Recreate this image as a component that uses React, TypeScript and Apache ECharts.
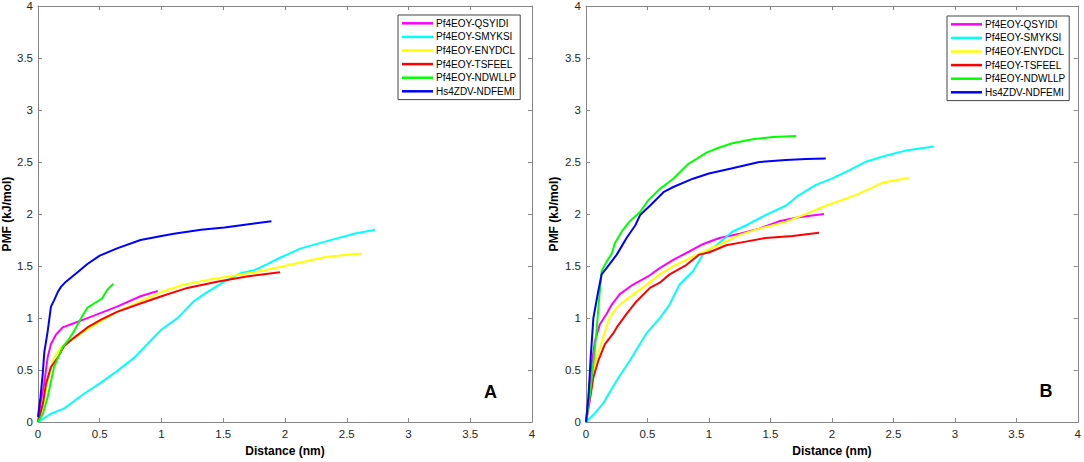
import React, { useEffect, useRef } from "react";
import * as echarts from "echarts";

type P = [number, number][];

const SERIES_NAMES = [
  "Pf4EOY-QSYIDI",
  "Pf4EOY-SMYKSI",
  "Pf4EOY-ENYDCL",
  "Pf4EOY-TSFEEL",
  "Pf4EOY-NDWLLP",
  "Hs4ZDV-NDFEMI",
];
const SERIES_COLORS = ["#ff00ff", "#00ffff", "#ffff00", "#ff0000", "#00ff00", "#0000ff"];
const AXIS_TICKS = [0, 0.5, 1, 1.5, 2, 2.5, 3, 3.5, 4];

// Panel A
const A_QSYIDI: P = [[0,0],[0.02,0.18],[0.05,0.37],[0.078,0.62],[0.105,0.75],[0.145,0.84],[0.2,0.91],[0.29,0.95],[0.4,1.0],[0.51,1.05],[0.64,1.11],[0.83,1.21],[0.97,1.26]];
const A_SMYKSI: P = [[0,0],[0.105,0.08],[0.21,0.13],[0.37,0.27],[0.51,0.38],[0.64,0.49],[0.78,0.62],[0.91,0.78],[1.0,0.89],[1.13,1.0],[1.26,1.16],[1.37,1.25],[1.51,1.35],[1.64,1.43],[1.75,1.46],[1.86,1.52],[1.96,1.58],[2.13,1.67],[2.34,1.74],[2.56,1.81],[2.73,1.85]];
const A_ENYDCL: P = [[0,0],[0.04,0.15],[0.078,0.4],[0.13,0.62],[0.186,0.72],[0.24,0.76],[0.37,0.87],[0.51,0.97],[0.64,1.06],[0.83,1.16],[1.0,1.25],[1.18,1.32],[1.37,1.365],[1.59,1.41],[1.8,1.45],[2.07,1.52],[2.34,1.59],[2.62,1.62]];
const A_TSFEEL: P = [[0,0],[0.04,0.18],[0.065,0.37],[0.105,0.53],[0.16,0.62],[0.21,0.73],[0.29,0.81],[0.4,0.91],[0.51,0.985],[0.64,1.06],[0.83,1.14],[1.0,1.21],[1.21,1.29],[1.45,1.35],[1.69,1.4],[1.96,1.44]];
const A_NDWLLP: P = [[0,0],[0.04,0.08],[0.078,0.24],[0.13,0.53],[0.2,0.72],[0.24,0.78],[0.29,0.87],[0.35,1.0],[0.4,1.1],[0.455,1.14],[0.52,1.19],[0.56,1.27],[0.61,1.33]];
const A_NDFEMI: P = [[0,0.05],[0.02,0.24],[0.038,0.46],[0.051,0.67],[0.078,0.87],[0.105,1.11],[0.13,1.17],[0.16,1.25],[0.186,1.3],[0.226,1.35],[0.32,1.44],[0.4,1.52],[0.5,1.6],[0.64,1.67],[0.83,1.75],[1.0,1.79],[1.1,1.81],[1.32,1.85],[1.51,1.87],[1.69,1.9],[1.89,1.93]];

// Panel B
const B_QSYIDI: P = [[0,0],[0.02,0.24],[0.046,0.56],[0.073,0.78],[0.113,0.94],[0.167,1.04],[0.21,1.13],[0.275,1.23],[0.38,1.32],[0.505,1.4],[0.6,1.48],[0.71,1.56],[0.84,1.64],[0.95,1.71],[1.085,1.77],[1.25,1.81],[1.41,1.86],[1.57,1.93],[1.73,1.97],[1.935,2.0]];
const B_SMYKSI: P = [[0,0],[0.06,0.07],[0.14,0.18],[0.25,0.4],[0.356,0.59],[0.49,0.85],[0.6,1.0],[0.68,1.13],[0.76,1.32],[0.87,1.45],[0.95,1.61],[1.06,1.7],[1.19,1.83],[1.3,1.89],[1.46,1.99],[1.625,2.08],[1.73,2.18],[1.87,2.28],[2.0,2.34],[2.14,2.42],[2.27,2.5],[2.435,2.56],[2.6,2.61],[2.83,2.65]];
const B_ENYDCL: P = [[0,0],[0.03,0.24],[0.073,0.56],[0.14,0.815],[0.19,1.0],[0.25,1.1],[0.33,1.18],[0.46,1.29],[0.6,1.42],[0.71,1.5],[0.87,1.59],[1.0,1.66],[1.14,1.735],[1.25,1.8],[1.41,1.86],[1.625,1.925],[1.79,2.0],[1.95,2.08],[2.19,2.18],[2.41,2.3],[2.54,2.33],[2.63,2.35]];
const B_TSFEEL: P = [[0,0],[0.027,0.18],[0.06,0.43],[0.1,0.59],[0.154,0.75],[0.22,0.85],[0.25,0.91],[0.33,1.04],[0.41,1.16],[0.52,1.29],[0.6,1.34],[0.68,1.42],[0.815,1.51],[0.92,1.61],[1.0,1.63],[1.14,1.7],[1.3,1.735],[1.46,1.77],[1.68,1.79],[1.895,1.82]];
const B_NDWLLP: P = [[0,0],[0.03,0.24],[0.06,0.56],[0.086,0.88],[0.108,1.2],[0.127,1.45],[0.167,1.54],[0.21,1.62],[0.235,1.72],[0.29,1.83],[0.356,1.93],[0.44,2.02],[0.505,2.13],[0.6,2.24],[0.71,2.34],[0.83,2.48],[0.9,2.53],[0.98,2.59],[1.085,2.64],[1.19,2.68],[1.355,2.72],[1.52,2.74],[1.71,2.75]];
const B_NDFEMI: P = [[0,0],[0.02,0.24],[0.038,0.62],[0.06,1.0],[0.08,1.13],[0.1,1.26],[0.127,1.42],[0.167,1.48],[0.25,1.61],[0.33,1.77],[0.4,1.89],[0.44,1.99],[0.52,2.08],[0.63,2.21],[0.71,2.26],[0.87,2.34],[1.0,2.39],[1.19,2.44],[1.41,2.5],[1.625,2.52],[1.79,2.53],[1.95,2.535]];

const PANEL_A = [A_QSYIDI, A_SMYKSI, A_ENYDCL, A_TSFEEL, A_NDWLLP, A_NDFEMI];
const PANEL_B = [B_QSYIDI, B_SMYKSI, B_ENYDCL, B_TSFEEL, B_NDWLLP, B_NDFEMI];
const PANEL_LABELS = ["A", "B"];

const FONT = "'Liberation Sans', Arial, sans-serif";
const AXIS_COLOR = "#868686";
const LABEL_COLOR = "#262626";

function makeAxis(kind: "x" | "y", gridIndex: number, main: boolean, nameGap: number) {
  const tickMin = AXIS_TICKS[0];
  const tickMax = AXIS_TICKS[AXIS_TICKS.length - 1];
  const interval = AXIS_TICKS[1] - AXIS_TICKS[0];
  return {
    type: "value",
    gridIndex,
    position: kind === "x" ? (main ? "bottom" : "top") : main ? "left" : "right",
    min: tickMin,
    max: tickMax,
    interval,
    name: main ? (kind === "x" ? "Distance (nm)" : "PMF (kJ/mol)") : "",
    nameLocation: "middle",
    nameGap,
    nameTextStyle: { fontFamily: FONT, fontWeight: "bold", fontSize: 12, color: "#000" },
    axisLine: { show: true, onZero: false, lineStyle: { color: AXIS_COLOR, width: 1 } },
    axisTick: { show: true, inside: true, length: 4, lineStyle: { color: AXIS_COLOR } },
    axisLabel: {
      show: main,
      fontFamily: FONT,
      fontSize: 11.5,
      color: LABEL_COLOR,
      margin: kind === "x" ? 6 : 5,
      formatter: (v: number) => String(v),
    },
    splitLine: { show: false },
  };
}

export default function App() {
  const ref = useRef<HTMLDivElement>(null);
  useEffect(() => {
    if (!ref.current) return;
    const chart = echarts.init(ref.current, undefined, { renderer: "svg" });
    const grids = [
      { left: 37, top: 4.3, width: 495, height: 421 },
      { left: 586, top: 5.3, width: 494, height: 420.4 },
    ];
    const xAxis = [
      makeAxis("x", 0, true, 20),
      makeAxis("x", 0, false, 0),
      makeAxis("x", 1, true, 20),
      makeAxis("x", 1, false, 0),
    ];
    const yAxis = [
      makeAxis("y", 0, true, 25),
      makeAxis("y", 0, false, 0),
      makeAxis("y", 1, true, 26),
      makeAxis("y", 1, false, 0),
    ];
    const series: any[] = [];
    [PANEL_A, PANEL_B].forEach((panel, pi) => {
      panel.forEach((data, si) => {
        series.push({
          type: "line",
          name: SERIES_NAMES[si],
          xAxisIndex: pi * 2,
          yAxisIndex: pi * 2,
          data,
          showSymbol: false,
          symbol: "none",
          smooth: false,
          lineStyle: { color: SERIES_COLORS[si], width: 2 },
          itemStyle: { color: SERIES_COLORS[si] },
        });
      });
    });
    const legendBase = {
      orient: "vertical",
      data: SERIES_NAMES.map((n) => ({ name: n, icon: "rect" })),
      itemWidth: 31,
      itemHeight: 2.5,
      itemGap: 1,
      padding: [2, 4, 2, 4],
      backgroundColor: "#fff",
      borderColor: "#444",
      borderWidth: 1,
      borderRadius: 0,
      selectedMode: false,
      textStyle: { fontFamily: FONT, fontSize: 10, color: "#000", lineHeight: 12.6, padding: [0, 0, 0, -2] },
    };
    const option = {
      animation: false,
      backgroundColor: "#fff",
      grid: grids,
      xAxis,
      yAxis,
      legend: [
        { ...legendBase, left: 398, top: 15 },
        { ...legendBase, left: 947, top: 16 },
      ],
      graphic: [
        { type: "text", left: 484, top: 383, style: { text: PANEL_LABELS[0], font: `bold 18px ${FONT}`, fill: "#000" } },
        { type: "text", left: 1039.5, top: 382, style: { text: PANEL_LABELS[1], font: `bold 18px ${FONT}`, fill: "#000" } },
      ],
      series,
    };
    chart.setOption(option as any);
    return () => chart.dispose();
  }, []);
  return (
    <div
      ref={ref}
      style={{ position: "fixed", left: 0, top: 0, width: 1084, height: 462, background: "#fff" }}
    />
  );
}
